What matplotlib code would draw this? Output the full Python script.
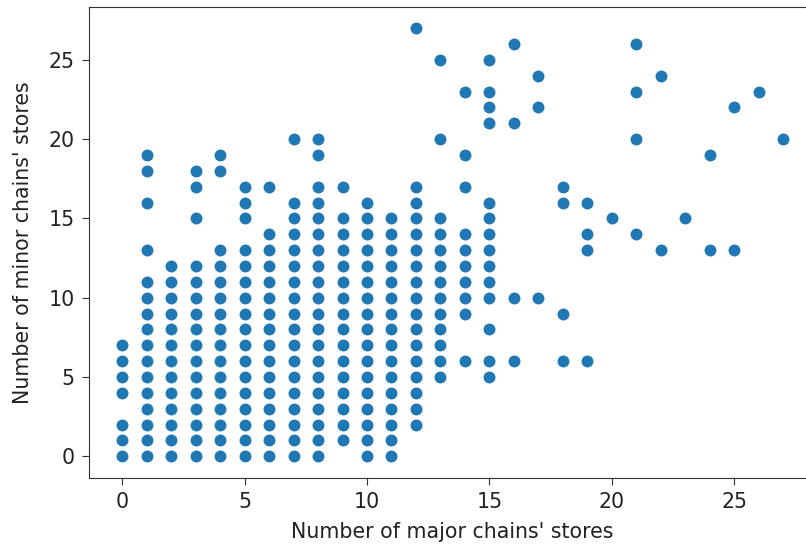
import matplotlib
matplotlib.use("Agg")
import matplotlib.pyplot as plt
import numpy as np

# minor chains' store counts observed at each major chains' store count
minor_at_major_0 = [0, 1, 2, 4, 5, 6, 7]
minor_at_major_1 = [0, 1, 2, 3, 4, 5, 6, 7, 8, 9, 10, 11, 13, 16, 18, 19]
minor_at_major_2 = [0, 1, 2, 3, 4, 5, 6, 7, 8, 9, 10, 11, 12]
minor_at_major_3 = [0, 1, 2, 3, 4, 5, 6, 7, 8, 9, 10, 11, 12, 15, 17, 18]
minor_at_major_4 = [0, 1, 2, 3, 4, 5, 6, 7, 8, 9, 10, 11, 12, 13, 18, 19]
minor_at_major_5 = [0, 1, 2, 3, 4, 5, 6, 7, 8, 9, 10, 11, 12, 13, 15, 16, 17]
minor_at_major_6 = [0, 1, 2, 3, 4, 5, 6, 7, 8, 9, 10, 11, 12, 13, 14, 17]
minor_at_major_7 = [0, 1, 2, 3, 4, 5, 6, 7, 8, 9, 10, 11, 12, 13, 14, 15, 16, 20]
minor_at_major_8 = [0, 1, 2, 3, 4, 5, 6, 7, 8, 9, 10, 11, 12, 13, 14, 15, 16, 17, 19, 20]
minor_at_major_9 = [1, 2, 3, 4, 5, 6, 7, 8, 9, 10, 11, 12, 13, 14, 15, 17]
minor_at_major_10 = [0, 1, 2, 3, 4, 5, 6, 7, 8, 9, 10, 11, 12, 13, 14, 15, 16]
minor_at_major_11 = [0, 1, 2, 3, 4, 5, 6, 7, 8, 9, 10, 11, 12, 13, 14, 15]
minor_at_major_12 = [2, 3, 4, 5, 6, 7, 8, 9, 10, 11, 12, 13, 14, 15, 16, 17, 27]
minor_at_major_13 = [5, 6, 7, 8, 9, 10, 11, 12, 13, 14, 15, 20, 25]
minor_at_major_14 = [6, 9, 10, 11, 12, 13, 14, 17, 19, 23]
minor_at_major_15 = [5, 6, 8, 10, 11, 12, 13, 14, 15, 16, 21, 22, 23, 25]
minor_at_major_16 = [6, 10, 21, 26]
minor_at_major_17 = [10, 22, 24]
minor_at_major_18 = [6, 9, 16, 17]
minor_at_major_19 = [6, 13, 14, 16]
minor_at_major_20 = [15]
minor_at_major_21 = [14, 20, 23, 26]
minor_at_major_22 = [13, 24]
minor_at_major_23 = [15]
minor_at_major_24 = [13, 19]
minor_at_major_25 = [13, 22]
minor_at_major_26 = [23]
minor_at_major_27 = [20]

columns = [
    minor_at_major_0, minor_at_major_1, minor_at_major_2, minor_at_major_3,
    minor_at_major_4, minor_at_major_5, minor_at_major_6, minor_at_major_7,
    minor_at_major_8, minor_at_major_9, minor_at_major_10, minor_at_major_11,
    minor_at_major_12, minor_at_major_13, minor_at_major_14, minor_at_major_15,
    minor_at_major_16, minor_at_major_17, minor_at_major_18, minor_at_major_19,
    minor_at_major_20, minor_at_major_21, minor_at_major_22, minor_at_major_23,
    minor_at_major_24, minor_at_major_25, minor_at_major_26, minor_at_major_27,
]

x_major = []
y_minor = []
for major, minors in enumerate(columns):
    for m in minors:
        x_major.append(major)
        y_minor.append(m)

plt.rcParams['font.family'] = ['DejaVu Sans']
fig = plt.figure(figsize=(8.06, 5.48), dpi=100)
ax = fig.add_axes([89.3 / 806, (548 - 477.7) / 548, (816 - 89.3) / 806, (477.7 - 6.7) / 548])
ax.scatter(x_major, y_minor, s=90, color='#1f77b4', edgecolor='white', linewidth=0.9)
ax.set_xlim(-1.35, 28.35)
ax.set_ylim(-1.35, 28.35)
ax.set_xticks([0, 5, 10, 15, 20, 25])
ax.set_yticks([0, 5, 10, 15, 20, 25])
ax.tick_params(labelsize=14.8, length=5, pad=5.5, color='#333333', labelcolor='#222222')
for s in ax.spines.values():
    s.set_color('#333333')
ax.set_xlabel("Number of major chains' stores", fontsize=14.8, color='#222222', labelpad=7)
ax.set_ylabel("Number of minor chains' stores", fontsize=14.8, color='#222222', labelpad=11)
fig.savefig('out.png', dpi=100)
